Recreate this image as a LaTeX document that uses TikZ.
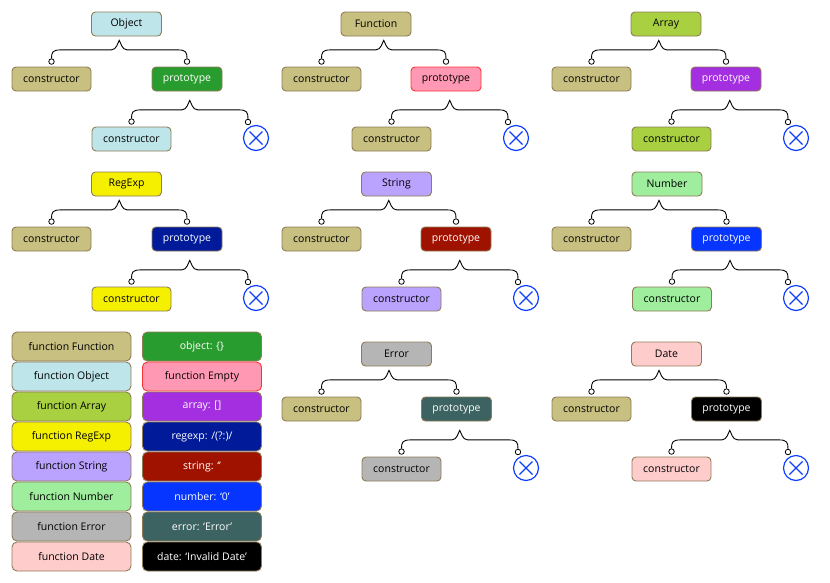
\documentclass[tikz,border=0pt]{standalone}
\usepackage{fontspec}
\setmainfont{Open Sans}
\usetikzlibrary{calc}
\definecolor{bordc}{HTML}{8E7B58}
\definecolor{cFun}{HTML}{C8C080}
\definecolor{cObj}{HTML}{BEE6EA}
\definecolor{cArr}{HTML}{A8D040}
\definecolor{cReg}{HTML}{F5F000}
\definecolor{cStr}{HTML}{B9A3FF}
\definecolor{cNum}{HTML}{9EEE9E}
\definecolor{cErr}{HTML}{B5B5B5}
\definecolor{cDat}{HTML}{FFCCCC}
\definecolor{pObj}{HTML}{289C2E}
\definecolor{pFun}{HTML}{FF99B3}
\definecolor{pFunB}{HTML}{FF3333}
\definecolor{pArr}{HTML}{A32FE0}
\definecolor{pReg}{HTML}{001A99}
\definecolor{pStr}{HTML}{A01200}
\definecolor{pNum}{HTML}{0535FF}
\definecolor{pErr}{HTML}{3C6262}
\definecolor{pDat}{HTML}{000000}
\definecolor{xblue}{HTML}{1040FF}
\tikzset{
  box/.style={draw=bordc, line width=0.9pt, rounded corners=4pt, minimum height=24pt,
    inner sep=0pt, font=\fontsize{10.5}{12}\selectfont, text=black},
  topw/.style={minimum width=70pt},
  conw/.style={minimum width=79pt},
  prow/.style={minimum width=70pt},
  legend/.style={box, minimum width=119pt, minimum height=29pt, rounded corners=5pt},
  dot/.style={circle, draw=black, fill=white, line width=0.8pt, minimum size=5.5pt, inner sep=0pt},
  brace/.style={draw=black, line width=0.9pt},
  xmark/.style={circle, draw=xblue, fill=white, line width=1.2pt, minimum size=25pt, inner sep=0pt,
    path picture={
      \draw[xblue, line width=1.2pt]
        ($(path picture bounding box.center)+(-6.5pt,-6.5pt)$) -- ($(path picture bounding box.center)+(6.5pt,6.5pt)$)
        ($(path picture bounding box.center)+(-6.5pt,6.5pt)$) -- ($(path picture bounding box.center)+(6.5pt,-6.5pt)$);
    }},
  Objectcls/.style={fill=cObj}, Objectpro/.style={fill=pObj, text=white},
  Functioncls/.style={fill=cFun}, Functionpro/.style={fill=pFun, draw=pFunB, text=black},
  Arraycls/.style={fill=cArr}, Arraypro/.style={fill=pArr, text=white},
  RegExpcls/.style={fill=cReg}, RegExppro/.style={fill=pReg, text=white},
  Stringcls/.style={fill=cStr}, Stringpro/.style={fill=pStr, text=white},
  Numbercls/.style={fill=cNum}, Numberpro/.style={fill=pNum, text=white},
  Errorcls/.style={fill=cErr}, Errorpro/.style={fill=pErr, text=white},
  Datecls/.style={fill=cDat}, Datepro/.style={fill=pDat, text=white},
}
\newcommand\jsbrace[2]{%
  \draw[brace] let \p1=(#1.north), \p2=(#2.north), \p3=($(#1.north)!0.5!(#2.north)$) in
    (\p1) .. controls (\x1,\y1+6pt) and (\x1+1pt,\y1+8.5pt) .. (\x1+9pt,\y1+8.5pt)
    -- (\x3-8pt,\y1+8.5pt) .. controls (\x3-2.5pt,\y1+8.5pt) and (\x3-1.5pt,\y1+16pt) .. (\x3,\y1+18pt)
    .. controls (\x3+1.5pt,\y1+16pt) and (\x3+2.5pt,\y1+8.5pt) .. (\x3+8pt,\y1+8.5pt)
    -- (\x2-9pt,\y1+8.5pt) .. controls (\x2-1pt,\y1+8.5pt) and (\x2,\y1+6pt) .. (\p2);
}
\newcommand\jsgroup[9]{%
  \node[box,topw,#9cls] (#1top) at (#4,#3) {#2};
  \node[box,conw,fill=cFun] (#1con) at (#5,#3+55) {constructor};
  \node[box,prow,#9pro] (#1pro) at (#6,#3+55) {prototype};
  \node[box,conw,#9cls] (#1low) at (#7,#3+115) {constructor};
  \node[xmark] (#1x) at (#8,#3+114) {};
  \node[dot] (#1a) at ($(#1con.north)+(0,-5)$) {};
  \node[dot] (#1b) at ($(#1pro.north)+(0,-5)$) {};
  \node[dot] (#1c) at ($(#1low.north)+(0,-5)$) {};
  \node[dot] (#1d) at ($(#1x.center)+(-8,-16)$) {};
  \jsbrace{#1a}{#1b}
  \jsbrace{#1c}{#1d}
}
\begin{document}
\begin{tikzpicture}[x=1pt, y=-1pt]
\useasboundingbox (0,0) rectangle (830,582);
\jsgroup{gobj}{Object}{24}{126.5}{51.5}{187}{131.5}{256}{Object}
\jsgroup{gfun}{Function}{24}{376}{321.5}{446}{391.5}{516}{Function}
\jsgroup{garr}{Array}{24}{666}{591.5}{726}{671.5}{796}{Array}
\jsgroup{greg}{RegExp}{184}{126.5}{51.5}{187}{131.5}{256}{RegExp}
\jsgroup{gstr}{String}{184}{396.5}{321.5}{456}{401.5}{526}{String}
\jsgroup{gnum}{Number}{184}{667}{591.5}{726.5}{672}{796}{Number}
\jsgroup{gerr}{Error}{354}{396.5}{321.5}{456.5}{401.5}{526}{Error}
\jsgroup{gdat}{Date}{354}{666.5}{591.5}{726.5}{671.5}{796}{Date}
% legend
\node[legend,fill=cFun] (l1) at (71.5,346.5) {function Function};
\node[legend,fill=cObj] (l2) at (71.5,376.5) {function Object};
\node[legend,fill=cArr] (l3) at (71.5,406.5) {function Array};
\node[legend,fill=cReg] (l4) at (71.5,436.5) {function RegExp};
\node[legend,fill=cStr] (l5) at (71.5,466.5) {function String};
\node[legend,fill=cNum] (l6) at (71.5,496.5) {function Number};
\node[legend,fill=cErr] (l7) at (71.5,526.5) {function Error};
\node[legend,fill=cDat] (l8) at (71.5,556.5) {function Date};
\node[legend,Objectpro] (r1) at (202,346.5) {object: \{\}};
\node[legend,Functionpro] (r2) at (202,376.5) {function Empty};
\node[legend,Arraypro] (r3) at (202,406.5) {array: []};
\node[legend,RegExppro] (r4) at (202,436.5) {regexp: /(?:)/};
\node[legend,Stringpro] (r5) at (202,466.5) {string: ‘’};
\node[legend,Numberpro] (r6) at (202,496.5) {number: ‘0’};
\node[legend,Errorpro] (r7) at (202,526.5) {error: ‘Error’};
\node[legend,Datepro] (r8) at (202,556.5) {date: ‘Invalid Date’};
\end{tikzpicture}
\end{document}
